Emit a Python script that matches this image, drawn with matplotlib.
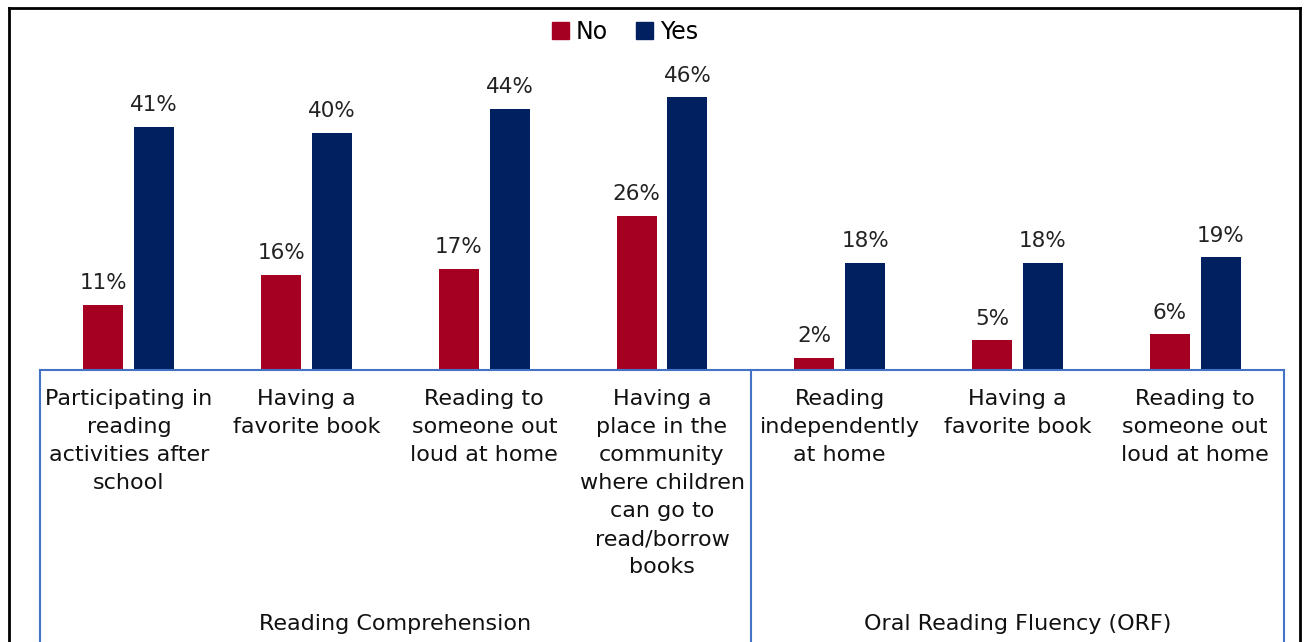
import numpy as np
import matplotlib.pyplot as plt
from matplotlib.lines import Line2D

plt.rcParams['font.family'] = ['DejaVu Sans']

# data
categories = ["Participating in\nreading\nactivities after\nschool",
              "Having a\nfavorite book",
              "Reading to\nsomeone out\nloud at home",
              "Having a\nplace in the\ncommunity\nwhere children\ncan go to\nread/borrow\nbooks",
              "Reading\nindependently\nat home",
              "Having a\nfavorite book",
              "Reading to\nsomeone out\nloud at home"]
groups = ["Reading Comprehension", "Oral Reading Fluency (ORF)"]
group_sizes = [4, 3]
no_vals = [11, 16, 17, 26, 2, 5, 6]
yes_vals = [41, 40, 44, 46, 18, 18, 19]

red = '#A50021'
navy = '#002060'
blue_line = '#4472C4'

W, H = 1308, 642
fig = plt.figure(figsize=(W / 100, H / 100), dpi=100)
ax = fig.add_axes([40 / W, (H - 370) / H, (1284 - 40) / W, 320 / H])

x = np.arange(len(categories))
bw = 0.225
off = 0.143
ax.bar(x - off, no_vals, bw, color=red, label='No')
ax.bar(x + off, yes_vals, bw, color=navy, label='Yes')

for xi, v in zip(x, no_vals):
    ax.text(xi - off, v + 2.0, f"{v}%", ha='center', va='bottom', fontsize=15.5, color='#222222')
for xi, v in zip(x, yes_vals):
    ax.text(xi + off, v + 2.0, f"{v}%", ha='center', va='bottom', fontsize=15.5, color='#222222')

ax.set_xlim(-0.5, len(categories) - 0.5)
ax.set_ylim(0, 54)
ax.set_yticks([])
ax.set_xticks([])
for s in ['top', 'left', 'right']:
    ax.spines[s].set_visible(False)
ax.spines['bottom'].set_color(blue_line)
ax.spines['bottom'].set_linewidth(1.5)

tr = ax.get_xaxis_transform()
for xi, lab in zip(x, categories):
    ax.text(xi, -0.06, lab, transform=tr, ha='center', va='top', fontsize=16,
            linespacing=1.5, color='#111111')

# group separators and labels
edges = np.concatenate([[0], np.cumsum(group_sizes)]) - 0.5
for e in edges:
    ax.plot([e, e], [0, -0.86], transform=tr, color=blue_line, lw=1.5, clip_on=False)
for g, a, b in zip(groups, edges[:-1], edges[1:]):
    ax.text((a + b) / 2, -0.795, g, transform=tr, ha='center', va='center',
            fontsize=16, color='#111111')

# outer frame
fx0, fx1, fy1 = 9 / W, 1300 / W, 1 - 8 / H
fig.add_artist(Line2D([fx0, fx0], [0, fy1], color='black', lw=2))
fig.add_artist(Line2D([fx1, fx1], [0, fy1], color='black', lw=2))
fig.add_artist(Line2D([fx0, fx1], [fy1, fy1], color='black', lw=2))

handles = [plt.Rectangle((0, 0), 1, 1, color=red), plt.Rectangle((0, 0), 1, 1, color=navy)]
fig.legend(handles, ['No', 'Yes'], loc='center', bbox_to_anchor=(625 / W, 1 - 32 / H),
           ncol=2, frameon=False, fontsize=17, handlelength=0.7, handleheight=0.7,
           handletextpad=0.3, columnspacing=1.2)

fig.savefig('out.png', dpi=100)
